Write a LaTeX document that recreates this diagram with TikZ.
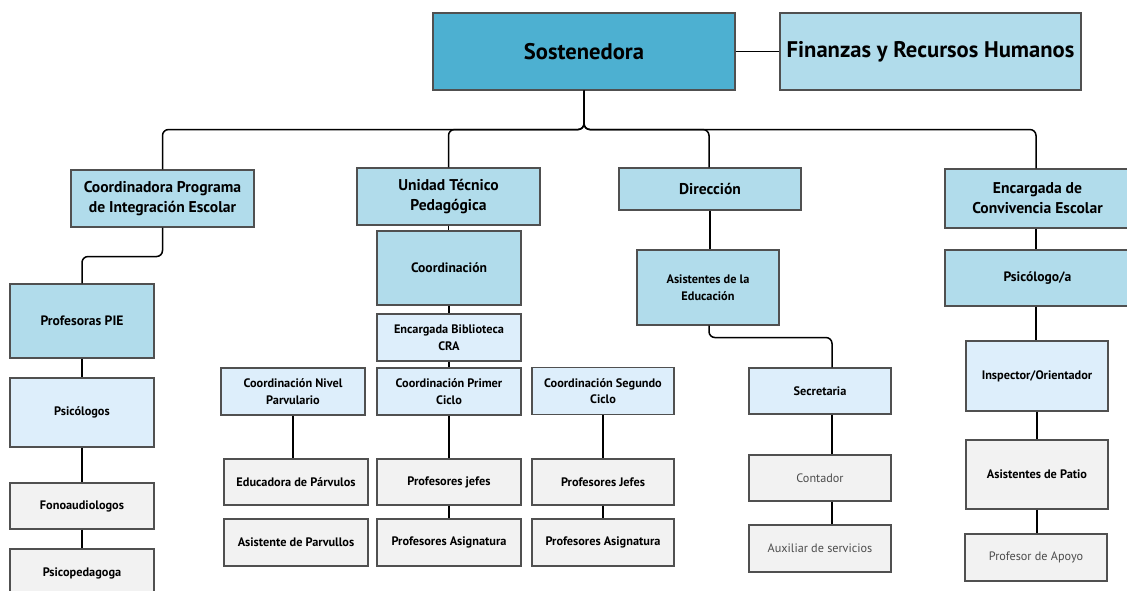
\documentclass[tikz,border=0pt]{standalone}
\usepackage{fontspec}
\setmainfont{PT Sans}
\usetikzlibrary{calc}

\definecolor{topblue}{HTML}{4DB0D1}
\definecolor{midblue}{HTML}{B1DCEB}
\definecolor{paleblue}{HTML}{DDEEFB}
\definecolor{palegray}{HTML}{F2F2F2}
\definecolor{boxline}{HTML}{505050}

\tikzset{
  box/.style={draw=boxline, line width=1.1pt, align=center, inner sep=1pt, font=\bfseries},
  topbox/.style={box, fill=topblue, font=\bfseries\fontsize{22.6}{26}\selectfont},
  headbox/.style={box, fill=midblue, font=\bfseries\fontsize{15.6}{20}\selectfont},
  midbox/.style={box, fill=midblue, font=\bfseries\fontsize{13.6}{17}\selectfont},
  palebox/.style={box, fill=paleblue, font=\bfseries\fontsize{12.3}{16.5}\selectfont},
  graybox/.style={box, fill=palegray, font=\bfseries\fontsize{12.3}{16.5}\selectfont},
  plainbox/.style={box, fill=palegray, text=black!70, font=\fontsize{12.2}{16.5}\selectfont},
  conn/.style={black, line width=1.5pt, rounded corners=6pt}
}

\begin{document}
\begin{tikzpicture}[x=1pt, y=-1pt]
\useasboundingbox (0,0) rectangle (1127,590);
\begin{scope}
\clip (0,0) rectangle (1127,590);
% top level
\node[topbox, minimum width=302, minimum height=77] (sost) at (584,51.5) {Sostenedora};
\node[topbox, fill=midblue, minimum width=301, minimum height=77] (fin) at (930.5,51.5) {Finanzas y Recursos Humanos};
% second level
\node[headbox, minimum width=183, minimum height=57] (cpie) at (162.5,198.5) {Coordinadora Programa\\de Integración Escolar};
\node[headbox, minimum width=183, minimum height=57] (utp) at (448.5,196.5) {Unidad Técnico\\Pedagógica};
\node[headbox, minimum width=182, minimum height=42] (dir) at (710,189) {Dirección};
\node[headbox, minimum width=185, minimum height=59] (conv) at (1037.5,198.5) {Encargada de\\Convivencia Escolar};
% PIE column
\node[midbox, minimum width=144, minimum height=74] (ppie) at (82,321) {Profesoras PIE};
\node[palebox, minimum width=144, minimum height=69] (psicol) at (82,412.5) {Psicólogos};
\node[graybox, minimum width=144, minimum height=46] (fono) at (82,506) {Fonoaudiologos};
\node[graybox, minimum width=144, minimum height=48] (pped) at (82,573) {Psicopedagoga};
% UTP column
\node[midbox, minimum width=144, minimum height=74] (coord) at (449,268) {Coordinación};
\node[palebox, minimum width=144, minimum height=47] (cra) at (449,337.5) {Encargada Biblioteca\\CRA};
\node[palebox, minimum width=144, minimum height=47] (cnp) at (293,391.5) {Coordinación Nivel\\Parvulario};
\node[palebox, minimum width=144, minimum height=47] (cpc) at (449,391.5) {Coordinación Primer\\Ciclo};
\node[palebox, minimum width=142, minimum height=47] (csc) at (603,391) {Coordinación Segundo\\Ciclo};
\node[graybox, minimum width=144, minimum height=46] (edu) at (296,482) {Educadora de Párvulos};
\node[graybox, minimum width=144, minimum height=47] (asp) at (296,542.5) {Asistente de Parvullos};
\node[graybox, minimum width=144, minimum height=46] (pj1) at (449,482) {Profesores jefes};
\node[graybox, minimum width=144, minimum height=47] (pa1) at (449,542.5) {Profesores Asignatura};
\node[graybox, minimum width=142, minimum height=46] (pj2) at (603,482) {Profesores Jefes};
\node[graybox, minimum width=142, minimum height=47] (pa2) at (603,542.5) {Profesores Asignatura};
% Direccion column
\node[palebox, fill=midblue, minimum width=142, minimum height=75] (asis) at (708,287.5) {Asistentes de la\\Educación};
\node[palebox, minimum width=142, minimum height=46] (secr) at (820,391) {Secretaria};
\node[plainbox, minimum width=142, minimum height=46] (cont) at (820,478) {Contador};
\node[plainbox, minimum width=142, minimum height=47] (aux) at (820,548.5) {Auxiliar de servicios};
% Convivencia column
\node[midbox, minimum width=185, minimum height=56] (psico) at (1037.5,278) {Psicólogo/a};
\node[palebox, minimum width=142, minimum height=70] (insp) at (1037,376) {Inspector/Orientador};
\node[graybox, minimum width=142, minimum height=69] (patio) at (1037,474.5) {Asistentes de Patio};
\node[plainbox, minimum width=142, minimum height=47] (apoyo) at (1036,557.5) {Profesor de Apoyo};
% connectors
\coordinate (bus) at ($(sost.south)+(0,39)$);
\draw[conn] (sost.east) -- (sost.east -| fin.west);
\draw[conn] (sost.south) -- (bus) -| (cpie.north);
\draw[conn] (sost.south) -- (bus) -| (utp.north);
\draw[conn] (sost.south) -- (bus) -| ([xshift=-1]dir.north);
\draw[conn] (sost.south) -- (bus) -| ([xshift=-1.5]conv.north);
\draw[conn] (cpie.south) -- ++(0,29) -| (ppie.north);
\foreach \a/\b in {ppie/psicol, psicol/fono, fono/pped, utp/coord, coord/cra, cra/cpc, cpc/pj1, pj1/pa1, csc/pj2, pj2/pa2, insp/patio, patio/apoyo}
  \draw[conn] (\a.south) -- (\a.south |- \b.north);
\draw[conn] (cnp.south) -- (cnp.south |- edu.north);
\draw[conn] (dir.south) -- (dir.south |- asis.north);
\draw[conn] ([xshift=-1.5]conv.south) -- ([xshift=-1.5]conv.south |- psico.north);
\draw[conn] ([xshift=-1.5]psico.south) -- ([xshift=-1.5]psico.south |- insp.north);
\draw[conn] ([xshift=1]asis.south) -- ++(0,12) -| ([xshift=12]secr.north);
\draw[conn] ([xshift=12]secr.south) -- ([xshift=12]secr.south |- cont.north);
\draw[conn] ([xshift=12]cont.south) -- ([xshift=12]cont.south |- aux.north);
\end{scope}
\end{tikzpicture}
\end{document}
